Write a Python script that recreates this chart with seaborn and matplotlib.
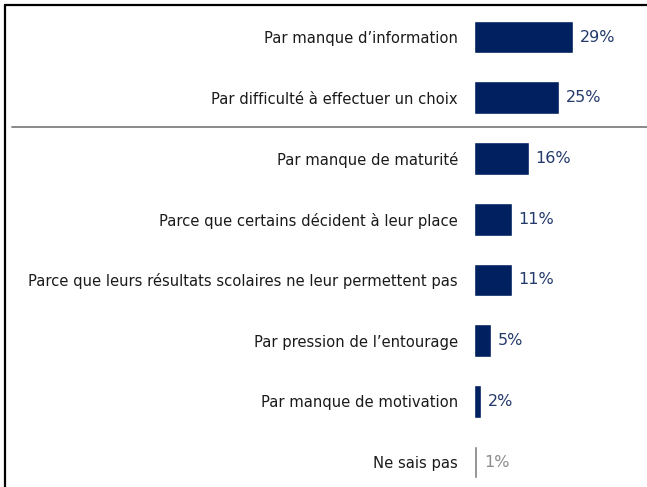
import matplotlib
matplotlib.use("Agg")
import matplotlib.pyplot as plt
from matplotlib.lines import Line2D
import seaborn as sns
import pandas as pd

categories = [
    "Par manque d\u2019information",
    "Par difficult\u00e9 \u00e0 effectuer un choix",
    "Par manque de maturit\u00e9",
    "Parce que certains d\u00e9cident \u00e0 leur place",
    "Parce que leurs r\u00e9sultats scolaires ne leur permettent pas",
    "Par pression de l\u2019entourage",
    "Par manque de motivation",
    "Ne sais pas",
]
values = [29, 25, 16, 11, 11, 5, 2, 1]
value_labels = ["29%", "25%", "16%", "11%", "11%", "5%", "2%", "1%"]

NAVY = "#002060"
GRAY = "#7f7f7f"
bar_colors = [NAVY] * 7 + [GRAY]
text_colors = ["#243a6b"] * 7 + ["#8c8c8c"]

sns.set_theme(style="white")
plt.rcParams["font.family"] = ["DejaVu Sans"]

df = pd.DataFrame({"cat": categories, "val": values})

fig = plt.figure(figsize=(6.47, 4.87), dpi=100)
ax = fig.add_axes([474 / 647, 0, 1 - 474 / 647, 1])
sns.barplot(data=df, x="val", y="cat", hue="cat", palette=bar_colors,
            legend=False, width=0.54, ax=ax, saturation=1)

ax.set_xlim(0, (647 - 474) / 3.41)
ax.set_ylim(7.41, -0.61)
ax.set_xlabel("")
ax.set_ylabel("")
ax.set_xticks([])
for s in ax.spines.values():
    s.set_visible(False)
ax.tick_params(axis="y", length=0, pad=11.5)
for lbl in ax.get_yticklabels():
    lbl.set_fontsize(10.6)
    lbl.set_color("#1a1a1a")

for i, (v, t) in enumerate(zip(values, value_labels)):
    ax.annotate(t, (v, i), xytext=(5, 0), textcoords="offset points",
                va="center", ha="left", fontsize=11.5, color=text_colors[i])

# frame lines
fig.add_artist(Line2D([5 / 647, 5 / 647], [0, 1 - 5 / 487], color="black", lw=1.6))
fig.add_artist(Line2D([5 / 647, 1], [1 - 5 / 487, 1 - 5 / 487], color="black", lw=1.6))
fig.add_artist(Line2D([12 / 647, 1], [1 - 127 / 487, 1 - 127 / 487], color="#808080", lw=1.3))

fig.savefig("out.png", dpi=100)
